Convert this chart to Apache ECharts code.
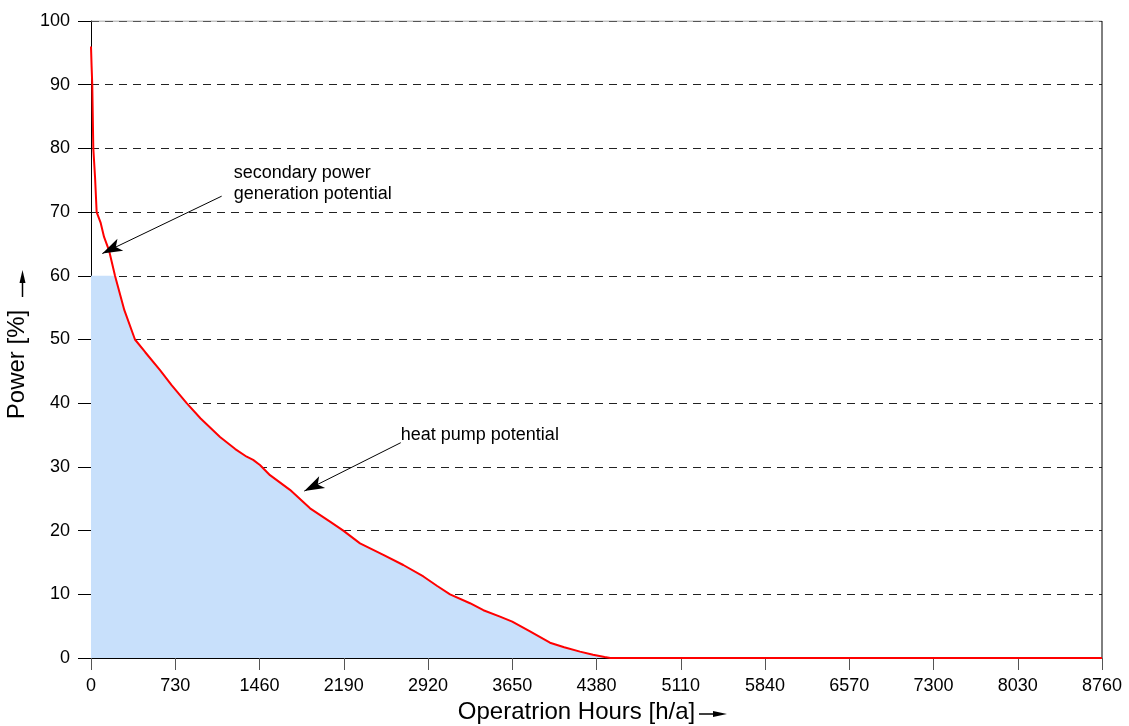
<!DOCTYPE html>
<html><head><meta charset="utf-8">
<script src="https://cdn.jsdelivr.net/npm/echarts@6/dist/echarts.min.js"></script>
<style>html,body{margin:0;padding:0;background:#fff}#c{width:1129px;height:726px}</style>
</head><body><div id="c"></div>
<script>
const hours = [0,5,11,20,35,49,84,113,156,208,289,381,470,598,700,829,950,1118,1250,1349,1405,1464,1551,1724,1898,2071,2186,2331,2533,2706,2880,3000,3111,3284,3400,3544,3650,3800,3977,4100,4237,4350,4450,4500,8760];
const power = [96,93,90,80,75.5,70,68.3,66.1,64,60,54.6,50,48,45.2,42.8,40,37.6,34.7,32.8,31.6,31.1,30.3,28.7,26.4,23.5,21.4,20,18,16.2,14.6,12.8,11.3,10,8.6,7.5,6.5,5.7,4.2,2.4,1.7,1.0,0.5,0.15,0,0];
const heatPumpCap = 60;
const xTicks = [0,730,1460,2190,2920,3650,4380,5110,5840,6570,7300,8030,8760];
const yTicks = [0,10,20,30,40,50,60,70,80,90,100];
const annotations = [
  {text:'secondary power\ngeneration potential', at:[1132,72.5], tip:[98,63.5]},
  {text:'heat pump potential', at:[2684,33.8], tip:[1848,26.2]}
];

const curve = hours.map((h,i)=>[h,power[i]]);
const fill = hours.map((h,i)=>[h,Math.min(power[i],heatPumpCap)]);
const font = 'Liberation Sans, Arial, sans-serif';
const chart = echarts.init(document.getElementById('c'), null, {renderer:'canvas'});
chart.setOption({
  animation:false,
  grid:{left:91,right:27,top:21,bottom:68,show:false,containLabel:false,outerBoundsMode:'none'},
  xAxis:{type:'value',min:xTicks[0],max:xTicks[xTicks.length-1],interval:730,
    name:'Operatrion Hours [h/a]',nameLocation:'middle',nameGap:42,
    nameTextStyle:{fontFamily:font,fontSize:24,color:'#000',padding:[0,40,0,0]},
    axisLine:{show:true,onZero:false,lineStyle:{color:'#000',width:1}},
    axisTick:{show:true,length:12,lineStyle:{color:'#555'}},
    axisLabel:{fontFamily:font,fontSize:18,color:'#000',margin:19,formatter:v=>String(v)},
    splitLine:{show:false}},
  yAxis:{type:'value',min:yTicks[0],max:yTicks[yTicks.length-1],interval:10,
    name:'Power [%]',nameLocation:'middle',nameGap:56,nameRotate:90,
    nameTextStyle:{fontFamily:font,fontSize:24,color:'#000',padding:[0,50,0,0]},
    axisLine:{show:true,lineStyle:{color:'#000',width:1}},
    axisTick:{show:true,length:13,lineStyle:{color:'#000'}},
    axisLabel:{fontFamily:font,fontSize:18,color:'#000',margin:21,formatter:v=>String(v)},
    splitLine:{show:true,lineStyle:{color:'#222',type:[8,6],width:1}}},
  series:[
    {type:'line',data:fill,symbol:'none',lineStyle:{width:0},areaStyle:{color:'#c8e0fb',opacity:1},z:1,silent:true},
    {type:'line',data:[[0,100],[8760,100]],symbol:'none',lineStyle:{color:'#888',width:1},z:1,silent:true},
    {type:'line',data:curve,symbol:'none',lineStyle:{color:'#ff0000',width:2},z:3,
     markLine:{silent:true,symbol:['none','arrow'],symbolSize:[10,20],animation:false,
       lineStyle:{color:'#000',width:1,type:'solid'},label:{show:false},
       data:annotations.map(a=>[{coord:a.at},{coord:a.tip}])}},
    {type:'line',data:[[8760,0],[8760,100]],symbol:'none',lineStyle:{color:'#000',width:1},z:2,silent:true}
  ]
});
const g = annotations.map((a,i)=>{
  const p = chart.convertToPixel({gridIndex:0}, a.at);
  return i===0
    ? {type:'text',x:p[0]+12,y:p[1]-34,style:{text:a.text,font:'18px '+font,fill:'#000',lineHeight:21,verticalAlign:'top'}}
    : {type:'text',x:p[0],y:p[1]-8,style:{text:a.text,font:'18px '+font,fill:'#000',verticalAlign:'middle'}};
});
// axis-name arrows
g.push({type:'line',shape:{x1:22.5,y1:297,x2:22.5,y2:280},style:{stroke:'#000',lineWidth:1.5}});
g.push({type:'polygon',shape:{points:[[22.5,270],[19.5,283],[25.5,283]]},style:{fill:'#000'}});
g.push({type:'line',shape:{x1:699,y1:714,x2:715,y2:714},style:{stroke:'#000',lineWidth:1.5}});
g.push({type:'polygon',shape:{points:[[727,714],[713,711],[713,717]]},style:{fill:'#000'}});
chart.setOption({graphic:g});
</script></body></html>
